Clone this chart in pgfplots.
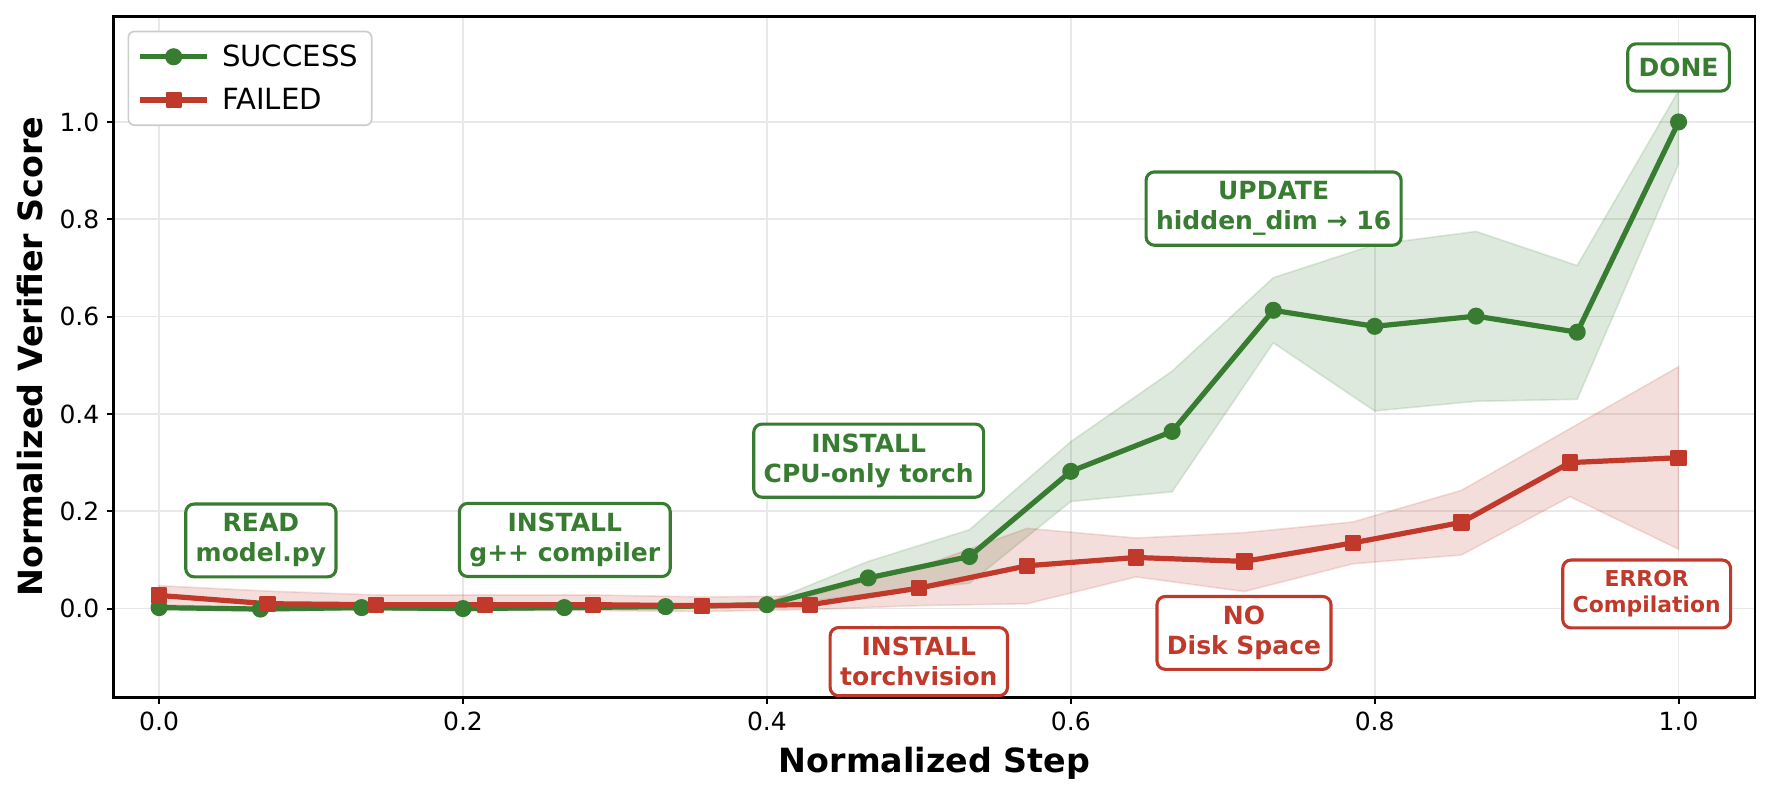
\documentclass[border=0pt]{standalone}
\usepackage{fontspec}
\setmainfont{DejaVu Sans}
\usepackage{pgfplots}
\pgfplotsset{compat=1.18}
\definecolor{sgreen}{RGB}{56,124,50}
\definecolor{fred}{RGB}{192,57,43}
\tikzset{ann/.style={draw=#1, text=#1, line width=1.5pt, rounded corners=4pt, fill=white, align=center,
  inner xsep=4.8pt, inner ysep=4.6pt, font=\bfseries\fontsize{12}{14.4}\selectfont}}
\begin{document}
\begin{tikzpicture}
\path[use as bounding box] (-54.7pt,-46.5pt) rectangle (794.9pt,334.6pt);
\begin{axis}[
  scale only axis, width=787.7pt, height=326.9pt,
  xmin=-0.0297, xmax=1.0503, ymin=-0.1819, ymax=1.2177,
  xtick={0,0.2,0.4,0.6,0.8,1.0}, ytick={0,0.2,0.4,0.6,0.8,1.0},
  xticklabels={0.0,0.2,0.4,0.6,0.8,1.0}, yticklabels={0.0,0.2,0.4,0.6,0.8,1.0},
  tick align=outside, major tick length=3.5pt, tick pos=left,
  tick style={black, line width=1pt},
  axis line style={line width=1.4pt},
  grid=major, major grid style={color=black!9, line width=0.8pt},
  tick label style={font=\fontsize{12}{14}\selectfont},
  xlabel={Normalized Step}, ylabel={Normalized Verifier Score},
  label style={font=\bfseries\fontsize{16}{19}\selectfont},
  xlabel style={at={(axis description cs:0.5,-0.1104)}, anchor=base},
  ylabel style={at={(axis description cs:-0.0509,0.5)}, anchor=center},
  legend style={at={(axis description cs:0.00825,0.9786)}, anchor=north west,
    draw=black!20, line width=0.8pt, rounded corners=3pt, fill=white,
    font=\fontsize{14}{16}\selectfont, inner xsep=4.5pt, inner ysep=4.2pt, row sep=5pt, column sep=4pt},
  legend cell align=left,
  legend image code/.code={\draw[sharp corners,#1,mark repeat=2,mark phase=2] plot coordinates {(0pt,0pt) (16pt,0pt) (32pt,0pt)};},
]
% bands
\addplot[forget plot, fill=sgreen, fill opacity=0.17, draw=sgreen, draw opacity=0.15, line width=0.8pt] coordinates {
(0.0000,0.006) (0.0667,0.003) (0.1333,0.006) (0.2000,0.004) (0.2667,0.006) (0.3333,0.008) (0.4000,0.012) (0.4667,0.097) (0.5333,0.162) (0.6000,0.343) (0.6667,0.488) (0.7333,0.680) (0.8000,0.748) (0.8667,0.775) (0.9333,0.705) (1.0000,1.064)
(1.0000,0.913) (0.9333,0.430) (0.8667,0.426) (0.8000,0.406) (0.7333,0.546) (0.6667,0.240) (0.6000,0.220) (0.5333,0.052) (0.4667,0.030) (0.4000,0.004) (0.3333,0.000) (0.2667,-0.002) (0.2000,-0.004) (0.1333,-0.002) (0.0667,-0.005) (0.0000,-0.002)
} -- cycle;
\addplot[forget plot, fill=fred, fill opacity=0.17, draw=fred, draw opacity=0.15, line width=0.8pt] coordinates {
(0.0000,0.047) (0.0714,0.036) (0.1429,0.028) (0.2143,0.028) (0.2857,0.028) (0.3571,0.024) (0.4286,0.026) (0.5000,0.085) (0.5714,0.165) (0.6429,0.145) (0.7143,0.156) (0.7857,0.178) (0.8571,0.243) (0.9286,0.370) (1.0000,0.497)
(1.0000,0.122) (0.9286,0.230) (0.8571,0.110) (0.7857,0.092) (0.7143,0.035) (0.6429,0.065) (0.5714,0.010) (0.5000,0.006) (0.4286,-0.002) (0.3571,-0.006) (0.2857,-0.004) (0.2143,-0.004) (0.1429,-0.004) (0.0714,0.000) (0.0000,0.008)
} -- cycle;
% lines
\addplot[sgreen, line width=2.5pt, line join=round, mark=*, mark size=3.6pt, mark options={solid, line width=1pt, fill=sgreen}] coordinates {
(0.0000,0.002) (0.0667,-0.001) (0.1333,0.002) (0.2000,0.000) (0.2667,0.002) (0.3333,0.004) (0.4000,0.008) (0.4667,0.063) (0.5333,0.107) (0.6000,0.282) (0.6667,0.364) (0.7333,0.613) (0.8000,0.580) (0.8667,0.601) (0.9333,0.568) (1.0000,1.000)
};
\addlegendentry{SUCCESS}
\addplot[fred, line width=2.5pt, line join=round, mark=square*, mark size=3.4pt, mark options={solid, sharp corners, line width=1pt, fill=fred}] coordinates {
(0.0000,0.027) (0.0714,0.010) (0.1429,0.008) (0.2143,0.008) (0.2857,0.008) (0.3571,0.006) (0.4286,0.008) (0.5000,0.042) (0.5714,0.088) (0.6429,0.105) (0.7143,0.097) (0.7857,0.135) (0.8571,0.177) (0.9286,0.300) (1.0000,0.310)
};
\addlegendentry{FAILED}
% annotations
\node[ann=sgreen] at (axis cs:0.067,0.140) {READ\\model.py};
\node[ann=sgreen] at (axis cs:0.267,0.141) {INSTALL\\g++ compiler};
\node[ann=sgreen] at (axis cs:0.467,0.304) {INSTALL\\CPU-only torch};
\node[ann=sgreen] at (axis cs:0.7335,0.822) {UPDATE\\hidden\_dim → 16};
\node[ann=sgreen, inner ysep=6.8pt, inner xsep=5.2pt] at (axis cs:1.0,1.112) {DONE};
\node[ann=fred] at (axis cs:0.500,-0.109) {INSTALL\\torchvision};
\node[ann=fred] at (axis cs:0.714,-0.050) {NO\\Disk Space};
\node[ann=fred, inner ysep=5pt, font=\bfseries\fontsize{10.5}{12.6}\selectfont] at (axis cs:0.979,0.030) {ERROR\\Compilation};
\end{axis}
\end{tikzpicture}
\end{document}
